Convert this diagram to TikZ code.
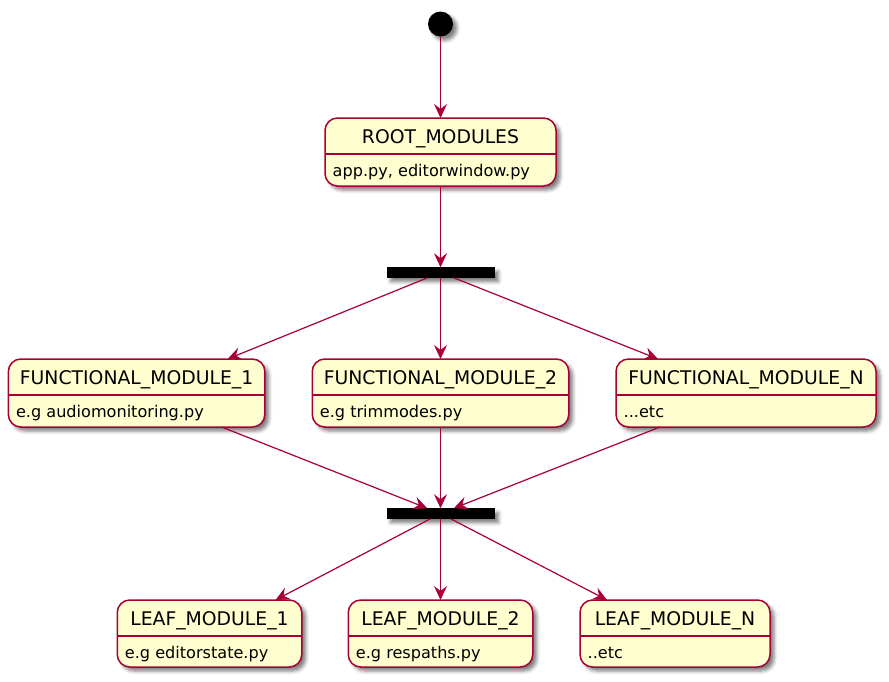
\documentclass[tikz,border=0pt]{standalone}
\usepackage{fontspec}
\setmainfont{DejaVu Sans}
\usetikzlibrary{arrows.meta, calc, positioning, shadows.blur}
\definecolor{umlred}{HTML}{A80036}
\definecolor{umlfill}{HTML}{FEFECE}
\tikzset{
	umlshadow/.style={blur shadow={shadow xshift=4pt, shadow yshift=-4pt, shadow blur radius=3.5pt, shadow opacity=50}},
	module/.style={
		rectangle, rounded corners=12.5pt,
		draw=umlred, line width=1.5pt,
		fill=umlfill,
		minimum height=68pt,
		inner sep=0pt, outer sep=0pt,
		umlshadow
	},
	title/.style={font=\fontsize{18.8}{22}\selectfont, inner sep=0pt, anchor=base},
	body/.style={font=\fontsize{16.1}{19}\selectfont, inner sep=0pt, anchor=base west},
	sep/.style={draw=umlred, line width=1.5pt},
	bar/.style={rectangle, fill=black, minimum width=108pt, minimum height=10.5pt, inner sep=0pt, outer sep=0pt, umlshadow},
	startdot/.style={circle, fill=black, minimum size=25pt, inner sep=0pt, outer sep=0pt, umlshadow},
	flow/.style={draw=umlred, line width=1.2pt, -{Stealth[length=14pt, width=13pt, inset=5pt]}}
}
\begin{document}
\begin{tikzpicture}[x=1pt, y=-1pt]
	\useasboundingbox (0,0) rectangle (889,681);

	% start point and bars
	\node[startdot]	(init)	at (440.5,24)		{};
	\node[bar]		(fork)	at (440.5,272.5)	{};
	\node[bar]		(join)	at (440.5,513.5)	{};

	% modules
	\node[module, minimum width=231pt]	(root)	at (440.5,152)	{};
	\node[module, minimum width=256.5pt]	(fm1)	at (136.6,393)	{};
	\node[module, minimum width=256.5pt]	(fm2)	at (440.5,393)	{};
	\node[module, minimum width=260pt]	(fmn)	at (746,393)	{};
	\node[module, minimum width=184.5pt, minimum height=67pt]	(leaf1)	at (209.5,633.5)	{};
	\node[module, minimum width=184.5pt, minimum height=67pt]	(leaf2)	at (440.5,633.5)	{};
	\node[module, minimum width=190pt, minimum height=67pt]	(leafn)	at (675,633.5)	{};

	\foreach \n/\t/\b in {root/{ROOT\_MODULES}/{app.py, editorwindow.py},
			fm1/{FUNCTIONAL\_MODULE\_1}/{e.g audiomonitoring.py},
			fm2/{FUNCTIONAL\_MODULE\_2}/{e.g trimmodes.py},
			fmn/{FUNCTIONAL\_MODULE\_N}/{...etc},
			leaf1/{LEAF\_MODULE\_1}/{e.g editorstate.py},
			leaf2/{LEAF\_MODULE\_2}/{e.g respaths.py},
			leafn/{LEAF\_MODULE\_N}/{..etc}} {
		\node[title]	(\n-title)	at ($(\n.north)+(0,25.5)$)		{\t};
		\node[body]		(\n-body)	at ($(\n.north west)+(7.5,58.5)$)	{\b};
		\draw[sep] ($(\n.north west)+(0,36)$) -- ($(\n.north east)+(0,36)$);
	}

	% transitions
	\draw[flow] (init) -- (root);
	\draw[flow] (root) -- (fork);
	\draw[flow] (fork) -- ($(fm1.north)+(91,0)$);
	\draw[flow] (fork) -- (fm2);
	\draw[flow] (fork) -- ($(fmn.north)+(-88,0)$);
	\draw[flow] ($(fm1.south)+(85,0)$) -- (join);
	\draw[flow] (fm2) -- (join);
	\draw[flow] ($(fmn.south)+(-86,0)$) -- (join);
	\draw[flow] (join) -- ($(leaf1.north)+(66,0)$);
	\draw[flow] (join) -- (leaf2);
	\draw[flow] (join) -- ($(leafn.north)+(-68,0)$);
\end{tikzpicture}
\end{document}
